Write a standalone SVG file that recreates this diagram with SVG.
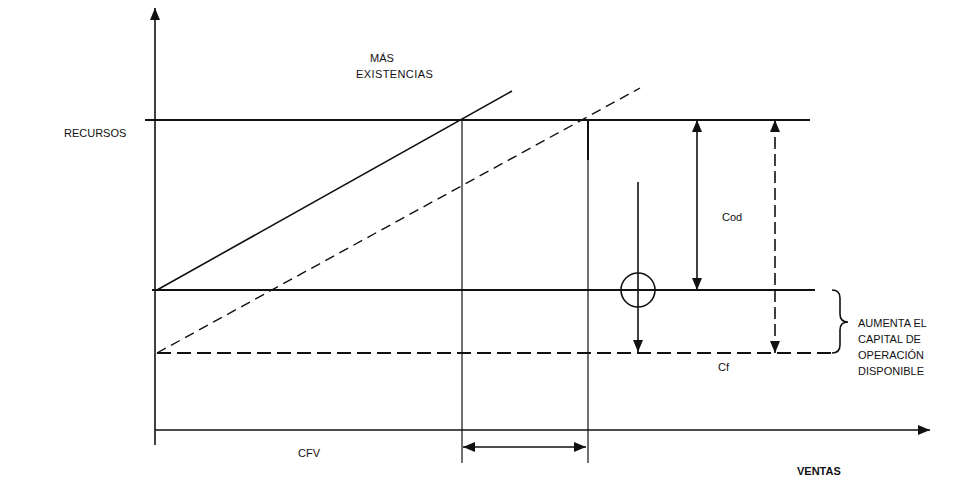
<svg xmlns="http://www.w3.org/2000/svg" width="978" height="480" viewBox="0 0 978 480">
<defs>
<style>
.ln{stroke:#111;fill:none;stroke-width:1.6}
.thin{stroke:#111;fill:none;stroke-width:1.2}
.thick{stroke:#111;fill:none;stroke-width:2}
.dsh{stroke:#111;fill:none;stroke-width:1.4;stroke-dasharray:10 6}
.dshh{stroke:#111;fill:none;stroke-width:1.8;stroke-dasharray:14 6}
.dshv{stroke:#111;fill:none;stroke-width:1.6;stroke-dasharray:12 5}
text{font-family:"Liberation Sans",Arial,sans-serif;font-size:11px;fill:#111}
</style>
<marker id="ah" viewBox="0 0 12 10" refX="12" refY="5" markerWidth="12" markerHeight="10" markerUnits="userSpaceOnUse" orient="auto-start-reverse">
<path d="M0,0 L12,5 L0,10 Z" fill="#111"/>
</marker>
</defs>
<g id="axes">
<line class="ln" x1="155" y1="445" x2="155" y2="8" marker-end="url(#ah)"/>
<line class="ln" x1="155" y1="430" x2="930" y2="430" marker-end="url(#ah)"/>
</g>
<g id="levels">
<line class="thick" x1="145" y1="120" x2="810" y2="120"/>
<line class="thick" x1="152" y1="290" x2="815" y2="290"/>
<line class="dshh" x1="157" y1="353" x2="832" y2="353"/>
<path class="ln" d="M832,290 Q840,290 840,298 L840,314 Q840,322 848,322 Q840,322 840,330 L840,345 Q840,353 832,353"/>
</g>
<g id="lines">
<line class="ln" x1="157" y1="290" x2="512" y2="91"/>
<line class="dsh" x1="157" y1="353" x2="640" y2="88"/>
<line class="thin" x1="462" y1="120" x2="462" y2="463"/>
<line class="thin" x1="588" y1="120" x2="588" y2="463"/>
<line class="thick" x1="588" y1="120" x2="588" y2="160"/>
</g>
<g id="connectors">
<line class="ln" x1="697" y1="120" x2="697" y2="290" marker-start="url(#ah)" marker-end="url(#ah)"/>
<line class="dshv" x1="775" y1="120" x2="775" y2="353" marker-start="url(#ah)" marker-end="url(#ah)"/>
<line class="ln" x1="638" y1="182" x2="638" y2="352" marker-end="url(#ah)"/>
<line class="ln" x1="463" y1="447" x2="586" y2="447" marker-start="url(#ah)" marker-end="url(#ah)"/>
</g>
<g id="circle">
<circle class="ln" cx="638" cy="290" r="17"/>
</g>
<g id="labels">
<text x="64" y="137" font-size="10">RECURSOS</text>
<text x="382" y="62" font-size="10" text-anchor="middle">MÁS</text>
<text x="356" y="78" font-size="13" letter-spacing="0.4">EXISTENCIAS</text>
<text x="722" y="221" font-size="12.5">Cod</text>
<text x="718" y="371" font-size="12">Cf</text>
<text x="858" y="327">AUMENTA EL</text>
<text x="858" y="343">CAPITAL DE</text>
<text x="858" y="359">OPERACIÓN</text>
<text x="858" y="375">DISPONIBLE</text>
<text x="298" y="457" font-size="14">CFV</text>
<text x="797" y="475" font-size="13" font-weight="bold">VENTAS</text>
</g>
</svg>
